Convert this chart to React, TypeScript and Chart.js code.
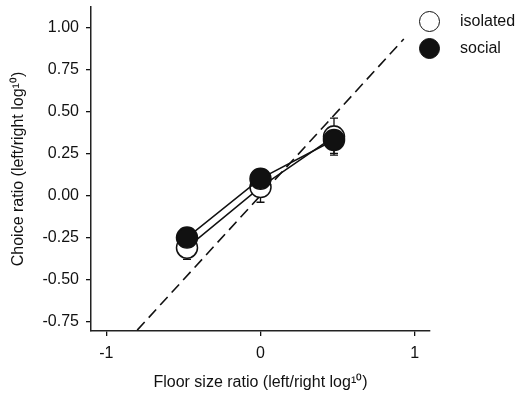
import React, { useEffect, useRef } from "react";
import { Chart, registerables } from "chart.js";

Chart.register(...registerables);

const floorRatios = [-0.477, 0, 0.477];
const isolatedMeans = [-0.31, 0.05, 0.35];
const isolatedErrors = [0.07, 0.09, 0.11];
const socialMeans = [-0.25, 0.1, 0.33];
const socialErrors = [0.05, 0.05, 0.08];
const unityX = [-0.8, 0.93];
const yTicks = [-0.75, -0.5, -0.25, 0, 0.25, 0.5, 0.75, 1.0];
const xTicks = [-1, 0, 1];
const seriesNames = ["isolated", "social"];

const FONT = "'Liberation Sans', Arial, sans-serif";

const errorBarPlugin = {
  id: "errorBars",
  beforeDatasetsDraw(chart: any) {
    const { ctx, scales } = chart;
    const xs = scales.x;
    const ys = scales.y;
    const sets = [
      { means: isolatedMeans, errs: isolatedErrors },
      { means: socialMeans, errs: socialErrors },
    ];
    ctx.save();
    ctx.strokeStyle = "#111";
    ctx.lineWidth = 1.3;
    sets.forEach((s) => {
      floorRatios.forEach((xv, i) => {
        const px = xs.getPixelForValue(xv);
        const top = ys.getPixelForValue(s.means[i] + s.errs[i]);
        const bot = ys.getPixelForValue(s.means[i] - s.errs[i]);
        ctx.beginPath();
        ctx.moveTo(px, top);
        ctx.lineTo(px, bot);
        ctx.moveTo(px - 4, top);
        ctx.lineTo(px + 4, top);
        ctx.moveTo(px - 4, bot);
        ctx.lineTo(px + 4, bot);
        ctx.stroke();
      });
    });
    ctx.restore();
  },
};

export default function App() {
  const ref = useRef<HTMLCanvasElement | null>(null);
  useEffect(() => {
    if (!ref.current) return;
    const chart = new Chart(ref.current, {
      type: "scatter",
      data: {
        datasets: [
          {
            label: seriesNames[1],
            data: floorRatios.map((x, i) => ({ x, y: socialMeans[i] })),
            showLine: true,
            borderColor: "#111",
            borderWidth: 1.5,
            backgroundColor: "#111",
            pointBackgroundColor: "#111",
            pointBorderColor: "#111",
            pointRadius: 10.5,
            pointBorderWidth: 1.5,
            order: 0,
          },
          {
            label: seriesNames[0],
            data: floorRatios.map((x, i) => ({ x, y: isolatedMeans[i] })),
            showLine: true,
            borderColor: "#111",
            borderWidth: 1.5,
            backgroundColor: "#fff",
            pointBackgroundColor: "#fff",
            pointBorderColor: "#111",
            pointRadius: 10.5,
            pointBorderWidth: 1.5,
            order: 1,
          },
          {
            label: "unity",
            data: unityX.map((x) => ({ x, y: x })),
            showLine: true,
            borderColor: "#111",
            borderWidth: 1.6,
            borderDash: [11, 6],
            pointRadius: 0,
            order: 2,
          },
        ],
      },
      options: {
        animation: false,
        responsive: true,
        maintainAspectRatio: false,
        layout: { autoPadding: false, padding: { top: 7, right: 96, left: 0, bottom: 0 } },
        plugins: {
          legend: { display: false },
          tooltip: { enabled: false },
        },
        scales: {
          x: {
            type: "linear",
            min: -1.1,
            max: 1.1,
            afterBuildTicks: (s: any) => {
              s.ticks = xTicks.map((v) => ({ value: v }));
            },
            afterFit: (s: any) => {
              s.height = 68;
              s.paddingLeft = 0;
              s.paddingRight = 0;
            },
            ticks: {
              color: "#111",
              font: { family: FONT, size: 16 },
              padding: 8,
              callback: (v: any) => String(v),
            },
            grid: { drawOnChartArea: false, drawTicks: true, tickLength: 5, color: "#111", lineWidth: 1.3 },
            border: { display: true, color: "#222", width: 1.5 },
            title: {
              display: true,
              text: "Floor size ratio (left/right log¹⁰)",
              color: "#111",
              font: { family: FONT, size: 16 },
              padding: { top: 4, bottom: 7 },
            },
          },
          y: {
            type: "linear",
            min: -0.805,
            max: 1.12,
            afterBuildTicks: (s: any) => {
              s.ticks = yTicks.map((v) => ({ value: v }));
            },
            afterFit: (s: any) => {
              s.width = 91;
              s.paddingTop = 0;
              s.paddingBottom = 0;
            },
            ticks: {
              color: "#111",
              font: { family: FONT, size: 16 },
              padding: 7,
              callback: (v: any) => Number(v).toFixed(2),
            },
            grid: { drawOnChartArea: false, drawTicks: true, tickLength: 5, color: "#111", lineWidth: 1.3 },
            border: { display: true, color: "#222", width: 1.5 },
            title: {
              display: true,
              text: "Choice ratio (left/right log¹⁰)",
              color: "#111",
              font: { family: FONT, size: 16 },
              padding: { top: 8.5, bottom: 0 },
            },
          },
        },
      },
      plugins: [errorBarPlugin],
    });
    return () => chart.destroy();
  }, []);

  const legendItem = (filled: boolean, top: number, text: string) => (
    <div style={{ position: "absolute", left: 419, top: top - 11, height: 22, display: "flex", alignItems: "center" }}>
      <div
        style={{
          width: 19,
          height: 19,
          borderRadius: "50%",
          border: "1.5px solid #111",
          background: filled ? "#111" : "#fff",
        }}
      />
      <span style={{ marginLeft: 20, font: `16px ${FONT}`, color: "#111" }}>{text}</span>
    </div>
  );

  return (
    <div style={{ position: "fixed", left: 0, top: 0, width: 526, height: 399, background: "#fff" }}>
      <canvas ref={ref} />
      {legendItem(false, 21, seriesNames[0])}
      {legendItem(true, 48, seriesNames[1])}
    </div>
  );
}
